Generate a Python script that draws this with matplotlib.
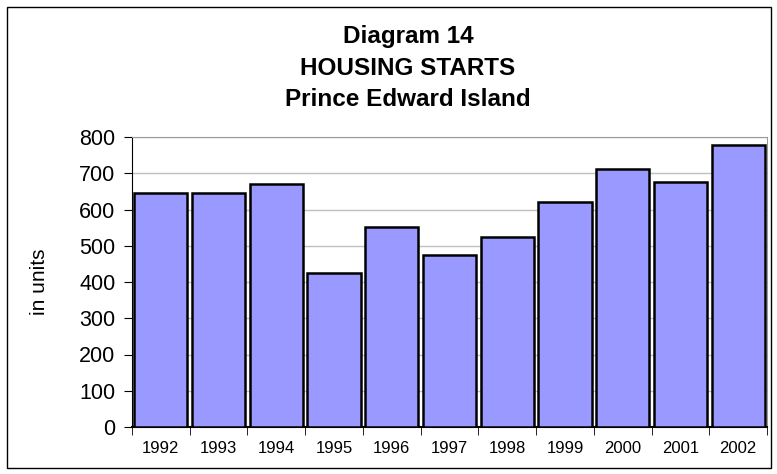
import matplotlib.pyplot as plt
from matplotlib import font_manager
from matplotlib.patches import Rectangle

years = ['1992', '1993', '1994', '1995', '1996', '1997', '1998', '1999', '2000', '2001', '2002']
starts = [646, 645, 670, 426, 553, 475, 523, 621, 712, 676, 778]

plt.rcParams['font.family'] = ['Liberation Sans', 'DejaVu Sans']

# year labels look like a narrow face in the original
installed = {f.name for f in font_manager.fontManager.ttflist}
if 'Liberation Sans Narrow' in installed:
    year_font, year_size = 'Liberation Sans Narrow', 14
else:
    year_font, year_size = 'Liberation Sans', 12

fig = plt.figure(figsize=(7.77, 4.74), dpi=100)
ax = fig.add_axes([132 / 777, 1 - 427 / 474, 635 / 777, 290 / 474])

x = range(len(years))
ax.bar(x, starts, width=0.92, color='#9999FF', edgecolor='black', linewidth=1.8, zorder=3)

ax.set_xlim(-0.5, len(years) - 0.5)
ax.set_ylim(0, 800)
ax.set_yticks(range(0, 801, 100))
ax.tick_params(axis='y', labelsize=15.5, length=6, direction='out', pad=6)
ax.set_xticks(list(x))
ax.set_xticklabels(years, fontsize=year_size, family=year_font)
ax.tick_params(axis='x', length=0, pad=10)
# ticks between categories
ax.set_xticks([i - 0.5 for i in range(len(years) + 1)], minor=True)
ax.tick_params(axis='x', which='minor', length=6, direction='out')

ax.grid(axis='y', color='#c0c0c0', linewidth=1, zorder=0)
for side in ['top', 'right']:
    ax.spines[side].set_color('#999999')
for side in ['left', 'bottom']:
    ax.spines[side].set_color('black')
ax.spines['bottom'].set_linewidth(1.5)

ax.set_ylabel('in units', fontsize=15, labelpad=22)

fig.text(408 / 777, 1 - 106 / 474, 'Diagram 14\nHOUSING STARTS\nPrince Edward Island',
         ha='center', va='baseline', fontsize=17.5, fontweight='bold', linespacing=1.47)

fig.patches.append(Rectangle((7 / 777, 6 / 474), 764 / 777, 461 / 474, transform=fig.transFigure,
                             fill=False, edgecolor='black', linewidth=1))

fig.savefig('out.png', dpi=100)
